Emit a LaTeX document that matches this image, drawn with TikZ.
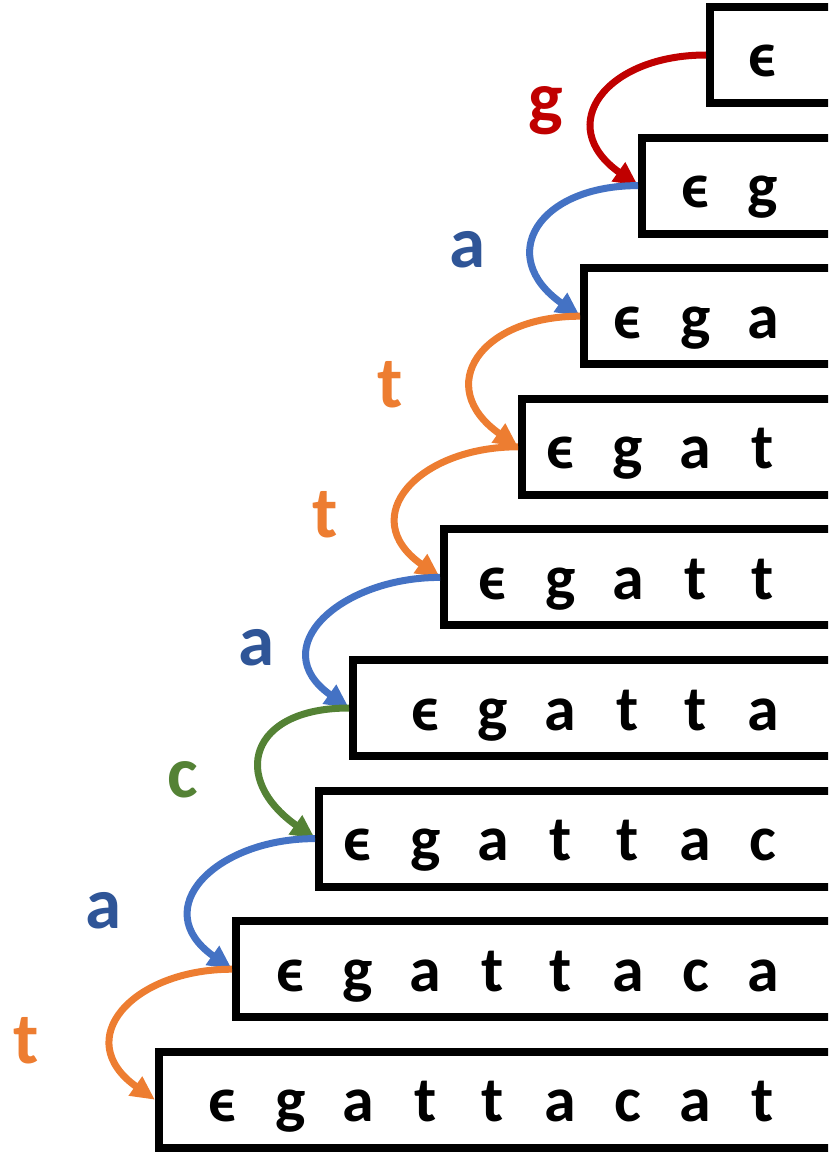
\documentclass[tikz,border=0pt]{standalone}
\usepackage{fontspec}
\setmainfont{Carlito}
\usetikzlibrary{arrows.meta}
\definecolor{gred}{HTML}{C00000}
\definecolor{ablue}{HTML}{4472C4}
\definecolor{abluetext}{HTML}{2F5597}
\definecolor{torange}{HTML}{ED7D31}
\definecolor{cgreen}{HTML}{548235}
\begin{document}
\begin{tikzpicture}[x=1pt,y=-1pt,
  rowbox/.style={draw=black, line width=8pt, fill=white, minimum height=96pt,
                 inner sep=0pt, anchor=west},
  sym/.style={font=\fontsize{64}{64}\bfseries\selectfont, anchor=base, inner sep=0pt},
  lbl/.style={font=\fontsize{73}{73}\bfseries\selectfont, anchor=base, inner sep=0pt},
  trans/.style={line width=7pt, -{Triangle[length=24pt,width=22pt]}}]
\useasboundingbox (0,0) rectangle (828,1153);
\clip (0,0) rectangle (828,1153);
% one box per prefix of the word, right aligned
\foreach \L [count=\i] in {706,638,580,518,440,349,315,232,155} {
  \pgfmathsetmacro\yc{55+130.6*(\i-1)}
  \node[rowbox, minimum width=880pt-\L pt] (r\i) at (\L,\yc) {};
  \foreach \c [count=\k] in {ϵ,g,a,t,t,a,c,a,t} {
    \ifnum\k>\i\else
      \node[sym] (s\i-\k) at ({763-67.5*(\i-\k)},{\yc+22}) {\c};
    \fi
  }
}
% transitions between consecutive prefixes
\foreach \a/\b/\col in {1/2/gred,2/3/ablue,3/4/torange,4/5/torange,
                         5/6/ablue,6/7/cgreen,7/8/ablue,8/9/torange}
  \draw[trans, color=\col] (r\a.west) .. controls +(-100,0) and +(-85,-60) .. (r\b.west);
% transition labels
\node[lbl, text=gred]      (lg)  at (546,123)  {g};
\node[lbl, text=abluetext] (la1) at (468,267)  {a};
\node[lbl, text=torange]   (lt1) at (390,407)  {t};
\node[lbl, text=torange]   (lt2) at (325,537)  {t};
\node[lbl, text=abluetext] (la2) at (257,665)  {a};
\node[lbl, text=cgreen]    (lc)  at (183,797)  {c};
\node[lbl, text=abluetext] (la3) at (104,928)  {a};
\node[lbl, text=torange]   (lt3) at (26,1063)  {t};
\end{tikzpicture}
\end{document}
